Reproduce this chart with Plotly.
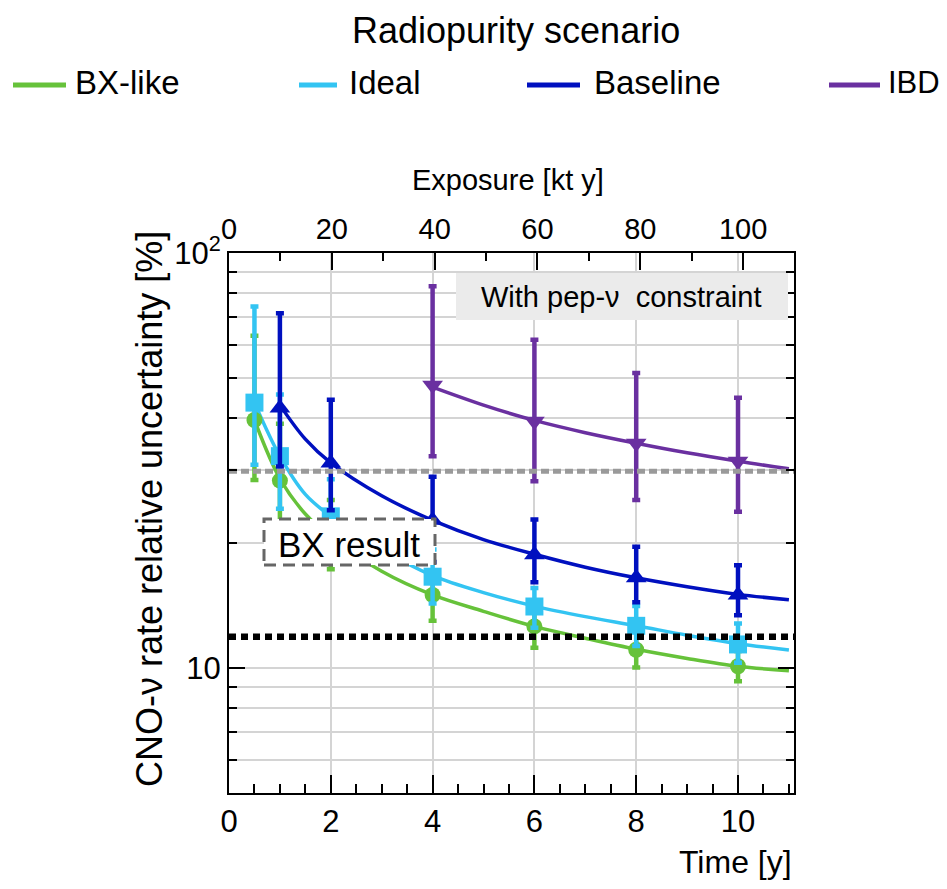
import numpy as np
import plotly.graph_objects as go

# ---------------- data ----------------
time_bx = [0.5, 1, 2, 4, 6, 8, 10]
bx_val = [39.6, 28.3, 20.8, 15.0, 12.6, 11.07, 10.1]
bx_hi = [63.2, 38.8, 25.4, 16.8, 14.0, 12.3, 11.0]
bx_lo = [28.4, 21.5, 17.3, 13.0, 11.2, 10.03, 9.3]

time_ideal = [0.5, 1, 2, 4, 6, 8, 10]
ideal_val = [43.6, 32.4, 23.2, 16.6, 14.07, 12.64, 11.4]
ideal_hi = [74.3, 45.6, 28.5, 19.3, 15.6, 14.1, 12.8]
ideal_lo = [30.9, 24.2, 19.0, 14.3, 12.5, 11.3, 10.3]

time_base = [1, 2, 4, 6, 8, 10]
base_val = [42.3, 31.2, 22.7, 18.75, 16.5, 15.0]
base_hi = [71.6, 44.3, 28.9, 22.8, 19.6, 17.7]
base_lo = [30.6, 24.0, 18.0, 16.1, 14.4, 13.4]

time_ibd = [4, 6, 8, 10]
ibd_val = [48.0, 39.3, 34.8, 31.5]
ibd_hi = [83.1, 61.8, 51.4, 44.8]
ibd_lo = [32.4, 28.2, 25.4, 23.8]

# fitted curves
fit_t_bx = [0.5, 1, 1.5, 2, 3, 4, 5, 6, 7, 8, 9, 10, 11]
fit_bx = [39.6, 28.6, 23.5, 20.7, 17.1, 15.0, 13.7, 12.6, 11.8, 11.1, 10.55, 10.1, 9.85]
fit_t_ideal = [0.5, 1, 1.5, 2, 3, 4, 5, 6, 7, 8, 9, 10, 11]
fit_ideal = [43.6, 32.4, 26.2, 23.2, 19.3, 16.7, 15.2, 14.1, 13.3, 12.65, 12.0, 11.45, 11.05]
fit_t_base = [1, 1.5, 2, 3, 4, 5, 6, 7, 8, 9, 10, 11]
fit_base = [43.0, 35.6, 31.2, 26.0, 22.7, 20.4, 18.8, 17.5, 16.5, 15.7, 15.05, 14.6]
fit_t_ibd = [4, 5, 6, 7, 8, 9, 10, 11]
fit_ibd = [47.5, 43.0, 39.5, 36.9, 34.8, 33.0, 31.5, 30.2]

ref_gray_level = 29.8
ref_black_level = 11.9

series_names = ["BX-like", "Ideal", "Baseline", "IBD"]
colors = ["#66c23a", "#33c4f2", "#0010bf", "#6a30a0"]

time_range = [0, 11.1]
exposure_range = [0, 109.9]
unc_range = [5.0, 100.0]
y_minor_vals = [6, 7, 8, 9, 20, 30, 40, 50, 60, 70, 80, 90]

# ---------------- figure ----------------
# the page body has an 8px margin: the figure is kept 16px smaller than the
# window (no scrollbars) and every reference pixel position is shifted by -8
OFF = 8
W, H = 947 - 2 * OFF, 889 - 2 * OFF
L, T = 229 - OFF, 253 - OFF
PW, PH = 565, 540
R, B = W - L - PW, H - T - PH


def px(x):
    return (x - OFF - L) / PW


def py(y):
    return (T + PH - (y - OFF)) / PH


FONT = "Liberation Sans, Arial, Helvetica, sans-serif"

fig = go.Figure()

curves = [
    (fit_t_bx, fit_bx),
    (fit_t_ideal, fit_ideal),
    (fit_t_base, fit_base),
    (fit_t_ibd, fit_ibd),
]
points = [
    (time_bx, bx_val, bx_hi, bx_lo, "circle", 16),
    (time_ideal, ideal_val, ideal_hi, ideal_lo, "square", 18),
    (time_base, base_val, base_hi, base_lo, "triangle-up", 18),
    (time_ibd, ibd_val, ibd_hi, ibd_lo, "triangle-down", 18),
]

for i, name in enumerate(series_names):
    ct, cv = curves[i]
    fig.add_trace(go.Scatter(
        x=ct, y=cv, mode="lines", name=name,
        line=dict(color=colors[i], width=3.5, shape="spline", smoothing=1.0),
        showlegend=False, hoverinfo="skip"))

for i, name in enumerate(series_names):
    t, v, hi, lo, sym, sz = points[i]
    plus = [h - c for h, c in zip(hi, v)]
    minus = [c - l for c, l in zip(v, lo)]
    fig.add_trace(go.Scatter(
        x=t, y=v, mode="markers", name=name,
        marker=dict(symbol=sym, size=sz, color=colors[i], line=dict(width=0)),
        error_y=dict(type="data", symmetric=False, array=plus, arrayminus=minus,
                     color=colors[i], thickness=4.5, width=4),
        showlegend=False))

# horizontal reference levels
fig.add_trace(go.Scatter(
    x=time_range, y=[ref_gray_level, ref_gray_level], mode="lines",
    line=dict(color="#9a9a9a", width=5, dash="8px,4px"),
    showlegend=False, hoverinfo="skip"))
fig.add_trace(go.Scatter(
    x=time_range, y=[ref_black_level, ref_black_level], mode="lines",
    line=dict(color="black", width=6.5, dash="7px,5px"),
    showlegend=False, hoverinfo="skip"))

# invisible helper so that the top (exposure) axis is drawn
fig.add_trace(go.Scatter(
    x=exposure_range, y=unc_range, xaxis="x2", yaxis="y", mode="markers",
    marker=dict(opacity=0, size=1), showlegend=False, hoverinfo="skip"))

grid_col = "#d4d4d4"
fig.update_layout(
    width=W, height=H,
    margin=dict(l=L, r=R, t=T, b=B, pad=0),
    paper_bgcolor="white", plot_bgcolor="white",
    font=dict(family=FONT, color="black"),
    xaxis=dict(
        range=time_range, tick0=0, dtick=2, ticks="inside", ticklen=18,
        tickwidth=2, tickcolor="black", showline=True, linecolor="black",
        linewidth=2, mirror=False, showgrid=True, gridcolor=grid_col,
        gridwidth=1.5, zeroline=False, tickfont=dict(size=31),
        ticklabelstandoff=0,
        minor=dict(dtick=0.5, ticks="inside", ticklen=9, tickwidth=2,
                   tickcolor="black", showgrid=False)),
    xaxis2=dict(
        range=exposure_range, overlaying="x", side="top", anchor="y",
        tick0=0, dtick=20, ticks="inside", ticklen=17, tickwidth=2,
        tickcolor="black", showline=True, linecolor="black", linewidth=2,
        showgrid=False, zeroline=False, tickfont=dict(size=29),
        ticklabelstandoff=0,
        minor=dict(dtick=10, ticks="inside", ticklen=8, tickwidth=2,
                   tickcolor="black", showgrid=False)),
    yaxis=dict(
        type="log", range=[np.log10(unc_range[0]), np.log10(unc_range[1])],
        tickvals=[10, 100], ticktext=["10", "10<sup>2</sup>"],
        ticks="inside", ticklen=16, tickwidth=2, tickcolor="black",
        showline=True, linecolor="black", linewidth=2, mirror="ticks",
        showgrid=True, gridcolor=grid_col, gridwidth=1.5, zeroline=False,
        tickfont=dict(size=31), ticklabelstandoff=0,
        minor=dict(tickvals=y_minor_vals, ticks="inside", ticklen=8,
                   tickwidth=2, tickcolor="black", showgrid=True,
                   gridcolor=grid_col, gridwidth=1.5)),
)

shapes = []
annotations = []

# legend (drawn above the plot)
legend_lines = [(13, 66), (299, 337), (527, 580), (829, 880)]
legend_text_x = [73, 347, 592, 886]
for i, name in enumerate(series_names):
    x0, x1 = legend_lines[i]
    shapes.append(dict(type="line", xref="paper", yref="paper",
                       x0=px(x0), x1=px(x1), y0=py(85), y1=py(85),
                       line=dict(color=colors[i], width=5)))
    annotations.append(dict(text=name, xref="paper", yref="paper",
                            x=px(legend_text_x[i]), y=py(83), xanchor="left",
                            yanchor="middle", showarrow=False,
                            font=dict(size=33 if i < 3 else 31)))
annotations.append(dict(text="Radiopurity scenario", xref="paper", yref="paper",
                        x=px(516), y=py(31), xanchor="center", yanchor="middle",
                        showarrow=False, font=dict(size=36)))

# "With pep-nu constraint" box
shapes.append(dict(type="rect", xref="paper", yref="paper",
                   x0=px(456), x1=px(788), y0=py(320), y1=py(273),
                   fillcolor="#ebebeb", line=dict(width=0), layer="above"))
annotations.append(dict(text="With pep-ν  constraint", xref="paper", yref="paper",
                        x=px(621), y=py(297), xanchor="center", yanchor="middle",
                        showarrow=False, font=dict(size=29)))

# "BX result" box
shapes.append(dict(type="rect", xref="paper", yref="paper",
                   x0=px(264), x1=px(435), y0=py(565), y1=py(519),
                   fillcolor="white", line=dict(color="#666666", width=3, dash="12px,7px"),
                   layer="above"))
annotations.append(dict(text="BX result", xref="paper", yref="paper",
                        x=px(349), y=py(544), xanchor="center", yanchor="middle",
                        showarrow=False, font=dict(size=35)))

# axis titles
annotations.append(dict(text="Time [y]", xref="paper", yref="paper",
                        x=px(794), y=py(862), xanchor="right", yanchor="middle",
                        showarrow=False, font=dict(size=32)))
annotations.append(dict(text="Exposure [kt y]", xref="paper", yref="paper",
                        x=px(508), y=py(180), xanchor="center", yanchor="middle",
                        showarrow=False, font=dict(size=29)))
annotations.append(dict(text="CNO-ν rate relative uncertainty [%]", xref="paper",
                        yref="paper", x=px(149), y=py(509), xanchor="center",
                        yanchor="middle", textangle=-90, showarrow=False,
                        font=dict(size=36)))

fig.update_layout(shapes=shapes, annotations=annotations)

fig.write_html("out.html")
